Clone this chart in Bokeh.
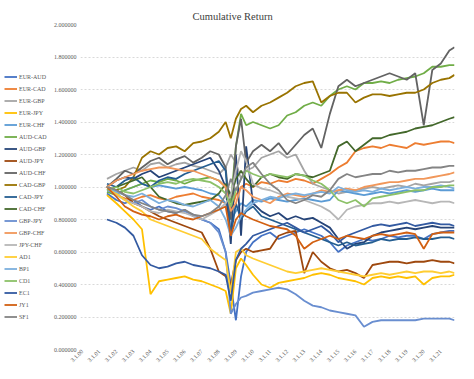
import math
from bokeh.plotting import figure
from bokeh.layouts import row
from bokeh.models import FixedTicker, Legend, LegendItem, PrintfTickFormatter
from bokeh.embed import file_html
from bokeh.resources import INLINE

# years since 3.1.00
t = [1.45, 2.0, 2.5, 3.0, 3.5, 4.0, 4.5, 5.0, 5.5, 6.0,
     6.5, 7.0, 7.5, 8.0, 8.4, 8.7, 9.0, 9.3, 9.6, 10.0,
     10.5, 11.0, 11.5, 12.0, 12.5, 13.0, 13.5, 14.0, 14.5, 15.0,
     15.5, 16.0, 16.5, 17.0, 17.5, 18.0, 18.5, 19.0, 19.5, 20.0,
     20.5, 21.0, 21.5, 21.8]

x_ticks = list(range(22))
x_tick_labels = ["3.1.00", "3.1.01", "3.1.02", "3.1.03", "3.1.04", "3.1.05",
                 "3.1.06", "3.1.07", "3.1.08", "3.1.09", "3.1.10", "3.1.11",
                 "3.1.12", "3.1.13", "3.1.14", "3.1.15", "3.1.16", "3.1.17",
                 "3.1.18", "3.1.19", "3.1.20", "3.1.21"]
y_ticks = [0.0, 0.2, 0.4, 0.6, 0.8, 1.0, 1.2, 1.4, 1.6, 1.8, 2.0]

eur_aud = [0.96, 0.92, 0.90, 0.92, 0.88, 0.86, 0.88, 0.85, 0.84, 0.86,
           0.82, 0.80, 0.78, 0.74, 0.60, 0.40, 0.18, 0.45, 0.60, 0.66,
           0.70, 0.72, 0.68, 0.70, 0.72, 0.74, 0.72, 0.70, 0.66, 0.60,
           0.64, 0.66, 0.68, 0.67, 0.68, 0.70, 0.69, 0.70, 0.70, 0.68,
           0.71, 0.72, 0.73, 0.73]
eur_cad = [1.00, 0.95, 0.93, 0.92, 0.94, 0.95, 0.93, 0.92, 0.94, 0.95,
           0.96, 0.94, 0.93, 0.92, 0.90, 0.85, 0.95, 1.00, 1.02, 1.00,
           1.03, 1.02, 1.04, 1.03, 1.05, 1.04, 1.02, 1.05, 1.08, 1.12,
           1.15, 1.22, 1.24, 1.25, 1.24, 1.26, 1.25, 1.24, 1.27, 1.26,
           1.27, 1.28, 1.28, 1.27]
eur_gbp = [1.05, 1.08, 1.10, 1.12, 1.10, 1.14, 1.15, 1.12, 1.14, 1.15,
           1.13, 1.12, 1.10, 1.08, 1.12, 1.20, 1.15, 1.05, 1.10, 1.12,
           1.18, 1.20, 1.22, 1.18, 1.20, 1.10, 1.02, 1.00, 0.98, 0.96,
           0.97, 0.98, 0.99, 1.00, 0.99, 1.00, 1.01, 1.00, 1.02, 1.01,
           1.02, 1.03, 1.03, 1.04]
eur_jpy = [0.95, 0.90, 0.85, 0.80, 0.74, 0.34, 0.42, 0.43, 0.44, 0.45,
           0.43, 0.42, 0.40, 0.38, 0.36, 0.22, 0.50, 0.56, 0.52, 0.46,
           0.40, 0.38, 0.41, 0.42, 0.43, 0.44, 0.46, 0.47, 0.46, 0.44,
           0.43, 0.42, 0.40, 0.44, 0.45, 0.44, 0.45, 0.44, 0.45, 0.40,
           0.44, 0.45, 0.45, 0.46]
eur_chf = [1.00, 0.96, 0.98, 1.00, 1.02, 1.00, 1.01, 1.00, 0.99, 1.00,
           0.99, 0.98, 0.96, 0.95, 0.90, 0.80, 0.85, 0.90, 0.88, 0.92,
           0.91, 0.93, 0.92, 0.91, 0.92, 0.93, 0.92, 0.91, 0.92, 0.98,
           0.97, 0.96, 0.95, 0.96, 0.97, 0.96, 0.97, 0.98, 0.97, 0.98,
           0.99, 0.98, 0.98, 0.98]
aud_cad = [0.97, 0.95, 0.98, 1.00, 1.02, 1.04, 1.03, 1.05, 1.04, 1.02,
           1.04, 1.05, 1.06, 1.04, 1.00, 0.90, 1.25, 1.45, 1.38, 1.40,
           1.38, 1.36, 1.38, 1.44, 1.46, 1.50, 1.52, 1.50, 1.56, 1.60,
           1.62, 1.60, 1.64, 1.64, 1.65, 1.64, 1.66, 1.67, 1.68, 1.70,
           1.74, 1.74, 1.75, 1.75]
aud_gbp = [1.00, 1.04, 1.06, 1.05, 1.08, 1.10, 1.06, 1.08, 1.10, 1.12,
           1.14, 1.16, 1.18, 1.10, 1.00, 0.65, 1.20, 0.70, 1.25, 0.90,
           0.85, 0.82, 0.84, 0.80, 0.82, 0.80, 0.81, 0.78, 0.75, 0.68,
           0.62, 0.65, 0.66, 0.70, 0.72, 0.73, 0.74, 0.75, 0.74, 0.75,
           0.76, 0.75, 0.75, 0.75]
aud_jpy = [1.00, 0.98, 0.95, 0.90, 0.88, 0.85, 0.82, 0.80, 0.78, 0.76,
           0.74, 0.72, 0.62, 0.48, 0.45, 0.40, 0.55, 0.60, 0.62, 0.60,
           0.61, 0.62, 0.70, 0.72, 0.73, 0.47, 0.60, 0.54, 0.50, 0.48,
           0.49, 0.47, 0.44, 0.52, 0.53, 0.54, 0.54, 0.53, 0.54, 0.54,
           0.55, 0.54, 0.54, 0.53]
aud_chf = [1.00, 1.05, 1.10, 1.08, 1.12, 1.16, 1.18, 1.14, 1.17, 1.19,
           1.15, 1.18, 1.22, 1.20, 1.12, 0.80, 1.25, 1.42, 1.15, 1.22,
           1.26, 1.22, 1.27, 1.20, 1.26, 1.32, 1.36, 1.24, 1.45, 1.62,
           1.66, 1.62, 1.64, 1.66, 1.68, 1.70, 1.68, 1.66, 1.70, 1.38,
           1.72, 1.76, 1.84, 1.86]
cad_gbp = [1.00, 0.98, 1.00, 1.06, 1.18, 1.22, 1.20, 1.24, 1.25, 1.22,
           1.27, 1.28, 1.30, 1.34, 1.40, 1.30, 1.42, 1.48, 1.50, 1.46,
           1.50, 1.52, 1.55, 1.58, 1.62, 1.64, 1.65, 1.52, 1.56, 1.58,
           1.58, 1.52, 1.55, 1.57, 1.57, 1.56, 1.57, 1.58, 1.58, 1.60,
           1.64, 1.66, 1.67, 1.69]
cad_jpy = [1.02, 1.00, 1.04, 1.06, 1.02, 1.00, 1.04, 1.06, 1.05, 1.08,
           1.10, 1.12, 1.14, 1.16, 1.10, 0.70, 0.90, 0.80, 0.85, 0.88,
           0.82, 0.80, 0.78, 0.76, 0.74, 0.72, 0.70, 0.68, 0.66, 0.64,
           0.66, 0.64, 0.65, 0.66, 0.68, 0.67, 0.68, 0.68, 0.69, 0.68,
           0.68, 0.69, 0.69, 0.68]
cad_chf = [0.98, 1.00, 1.02, 1.04, 1.06, 1.00, 0.94, 0.92, 0.90, 0.89,
           0.90, 0.91, 0.92, 0.96, 1.02, 0.95, 1.05, 1.10, 1.05, 1.00,
           1.06, 1.08, 1.06, 1.05, 1.08, 1.07, 1.06, 1.08, 1.10, 1.25,
           1.28, 1.22, 1.26, 1.30, 1.30, 1.32, 1.33, 1.34, 1.36, 1.37,
           1.38, 1.40, 1.42, 1.43]
gbp_jpy = [0.98, 0.96, 0.92, 0.90, 0.92, 0.88, 0.86, 0.88, 0.87, 0.85,
           0.83, 0.80, 0.78, 0.72, 0.60, 0.22, 0.28, 0.32, 0.33, 0.35,
           0.36, 0.37, 0.38, 0.37, 0.34, 0.30, 0.27, 0.26, 0.24, 0.23,
           0.22, 0.21, 0.14, 0.17, 0.18, 0.18, 0.18, 0.18, 0.18, 0.19,
           0.19, 0.19, 0.19, 0.18]
gbp_chf = [1.00, 1.04, 1.06, 1.08, 1.10, 1.11, 1.12, 1.12, 1.11, 1.10,
           1.10, 1.08, 1.06, 1.04, 1.00, 0.85, 0.90, 1.00, 0.98, 0.94,
           0.92, 0.90, 0.94, 0.96, 0.95, 0.94, 0.96, 0.98, 0.97, 0.98,
           0.99, 0.98, 1.00, 1.01, 1.02, 1.03, 1.03, 1.04, 1.05, 1.05,
           1.06, 1.07, 1.08, 1.09]
jpy_chf = [1.00, 0.95, 0.92, 0.90, 0.88, 0.85, 0.84, 0.86, 0.85, 0.84,
           0.82, 0.80, 0.83, 0.86, 0.90, 0.95, 1.10, 1.22, 1.16, 1.02,
           0.99, 0.98, 0.96, 0.94, 0.93, 0.92, 0.90, 0.88, 0.85, 0.80,
           0.86, 0.88, 0.89, 0.90, 0.90, 0.91, 0.90, 0.91, 0.92, 0.91,
           0.90, 0.91, 0.91, 0.90]
ad1 = [1.00, 0.96, 0.92, 0.88, 0.85, 0.80, 0.78, 0.76, 0.74, 0.72,
       0.70, 0.68, 0.62, 0.58, 0.55, 0.35, 0.60, 0.62, 0.58, 0.56,
       0.54, 0.52, 0.50, 0.48, 0.47, 0.48, 0.49, 0.50, 0.49, 0.48,
       0.47, 0.46, 0.45, 0.46, 0.47, 0.46, 0.47, 0.48, 0.47, 0.48,
       0.48, 0.47, 0.48, 0.47]
bp1 = [1.00, 0.97, 0.95, 0.94, 0.96, 0.93, 0.90, 0.92, 0.91, 0.89,
       0.88, 0.90, 0.92, 0.88, 0.80, 0.70, 0.75, 0.82, 0.86, 0.90,
       0.92, 0.94, 0.93, 0.95, 0.96, 0.95, 0.96, 0.97, 0.96, 1.00,
       0.98, 0.97, 0.98, 0.97, 0.99, 0.98, 0.99, 1.00, 0.99, 1.00,
       1.00, 1.01, 1.00, 0.99]
cd1 = [0.98, 1.00, 0.97, 0.96, 0.98, 1.00, 1.02, 1.03, 1.02, 1.04,
       1.05, 1.04, 1.03, 1.00, 0.96, 0.88, 0.98, 1.05, 1.10, 1.08,
       1.06, 1.08, 1.07, 1.06, 1.08, 1.07, 1.04, 1.02, 0.98, 0.92,
       0.90, 0.92, 0.88, 0.93, 0.94, 0.95, 0.96, 0.97, 0.98, 0.98,
       1.00, 1.00, 1.01, 1.01]
ec1 = [0.80, 0.78, 0.75, 0.70, 0.58, 0.52, 0.50, 0.51, 0.53, 0.54,
       0.52, 0.51, 0.50, 0.48, 0.46, 0.30, 0.55, 0.62, 0.65, 0.70,
       0.72, 0.74, 0.76, 0.78, 0.75, 0.72, 0.74, 0.76, 0.72, 0.66,
       0.70, 0.72, 0.74, 0.76, 0.77, 0.76, 0.77, 0.78, 0.76, 0.77,
       0.78, 0.77, 0.77, 0.76]
jy1 = [1.00, 0.94, 0.88, 0.85, 0.83, 0.82, 0.80, 0.82, 0.83, 0.81,
       0.80, 0.82, 0.84, 0.86, 0.88, 0.70, 0.80, 0.84, 0.82, 0.80,
       0.78, 0.76, 0.75, 0.74, 0.70, 0.62, 0.66, 0.68, 0.70, 0.68,
       0.70, 0.69, 0.68, 0.70, 0.71, 0.70, 0.71, 0.72, 0.71, 0.62,
       0.71, 0.72, 0.72, 0.72]
sf1 = [1.00, 0.98, 0.95, 0.92, 0.90, 0.88, 0.86, 0.85, 0.84, 0.86,
       0.83, 0.82, 0.84, 0.88, 0.95, 1.05, 0.98, 1.05, 1.12, 1.15,
       1.08, 1.02, 0.98, 0.92, 0.90, 0.92, 0.95, 0.94, 0.98, 1.05,
       1.08, 1.06, 1.07, 1.08, 1.08, 1.10, 1.09, 1.10, 1.10, 1.11,
       1.12, 1.12, 1.13, 1.13]

series_names = ["EUR-AUD", "EUR-CAD", "EUR-GBP", "EUR-JPY", "EUR-CHF", "AUD-CAD",
                "AUD-GBP", "AUD-JPY", "AUD-CHF", "CAD-GBP", "CAD-JPY", "CAD-CHF",
                "GBP-JPY", "GBP-CHF", "JPY-CHF", "AD1", "BP1", "CD1", "EC1", "JY1", "SF1"]
series_values = [eur_aud, eur_cad, eur_gbp, eur_jpy, eur_chf, aud_cad,
                 aud_gbp, aud_jpy, aud_chf, cad_gbp, cad_jpy, cad_chf,
                 gbp_jpy, gbp_chf, jpy_chf, ad1, bp1, cd1, ec1, jy1, sf1]
colors = ["#4472C4", "#ED7D31", "#A5A5A5", "#FFC000", "#5B9BD5", "#70AD47",
          "#264478", "#9E480E", "#636363", "#997300", "#255E91", "#43682B",
          "#698ED0", "#F1975A", "#B7B7B7", "#FFCD33", "#7CAFDD", "#8CC168",
          "#335AA1", "#D26012", "#848484"]

FONT = "Liberation Serif"
TXT = "#595959"
H = 370
TOP = 24
BOTTOM = 21
LW = 1.8

# ---- legend panel (separate figure at left) ----
lg = figure(width=50, height=H, output_backend="svg", toolbar_location=None,
            x_range=(100, 101), y_range=(0, 2.0),
            min_border_left=0, min_border_right=0,
            min_border_top=TOP, min_border_bottom=BOTTOM,
            outline_line_color=None, x_axis_location=None, y_axis_location=None)
lg.grid.visible = False
items = []
for name, vals, col in zip(series_names, series_values, colors):
    r = lg.line(t, vals, line_color=col, line_width=LW)
    items.append(LegendItem(label=name, renderers=[r]))
legend = Legend(items=items, location=(4, 27), glyph_width=13, glyph_height=11,
                label_height=11, spacing=1, padding=0, margin=0,
                label_standoff=2, label_text_font=FONT, label_text_font_size="6px",
                label_text_color=TXT, border_line_color=None,
                background_fill_alpha=0)
lg.add_layout(legend)

# ---- main chart ----
p = figure(width=408, height=H, output_backend="svg", toolbar_location=None,
           x_range=(-0.1, 21.8), y_range=(0, 2.0),
           min_border_left=27, min_border_right=4, min_border_top=TOP,
           min_border_bottom=BOTTOM, outline_line_color=None)

p.title.text = "Cumulative Return"
p.title.align = "left"
p.title.offset = 112
p.title.standoff = 6
p.title.text_font = FONT
p.title.text_font_size = "10.5px"
p.title.text_font_style = "normal"
p.title.text_color = "#404040"

for name, vals, col in zip(series_names, series_values, colors):
    p.line(t, vals, line_color=col, line_width=LW)

p.xgrid.grid_line_color = None
p.ygrid.ticker = FixedTicker(ticks=y_ticks)
p.ygrid.grid_line_color = "#D9D9D9"
p.ygrid.grid_line_dash = "2 2"
p.ygrid.grid_line_width = 1

p.yaxis.ticker = FixedTicker(ticks=y_ticks)
p.yaxis.formatter = PrintfTickFormatter(format="%.6f")
p.xaxis.ticker = FixedTicker(ticks=x_ticks)
p.xaxis.major_label_overrides = {k: lab for k, lab in zip(x_ticks, x_tick_labels)}
p.xaxis.major_label_orientation = math.pi / 4
for ax in (p.xaxis, p.yaxis):
    ax.axis_line_color = None
    ax.major_tick_line_color = None
    ax.minor_tick_line_color = None
    ax.major_tick_out = 0
    ax.major_tick_in = 0
    ax.major_label_text_font = FONT
    ax.major_label_text_color = TXT
p.yaxis.major_label_text_font_size = "6px"
p.xaxis.major_label_text_font_size = "6px"
p.yaxis.major_label_standoff = 4
p.xaxis.major_label_standoff = 1

layout = row(lg, p, spacing=0)
open("out.html", "w").write(file_html(layout, INLINE))
